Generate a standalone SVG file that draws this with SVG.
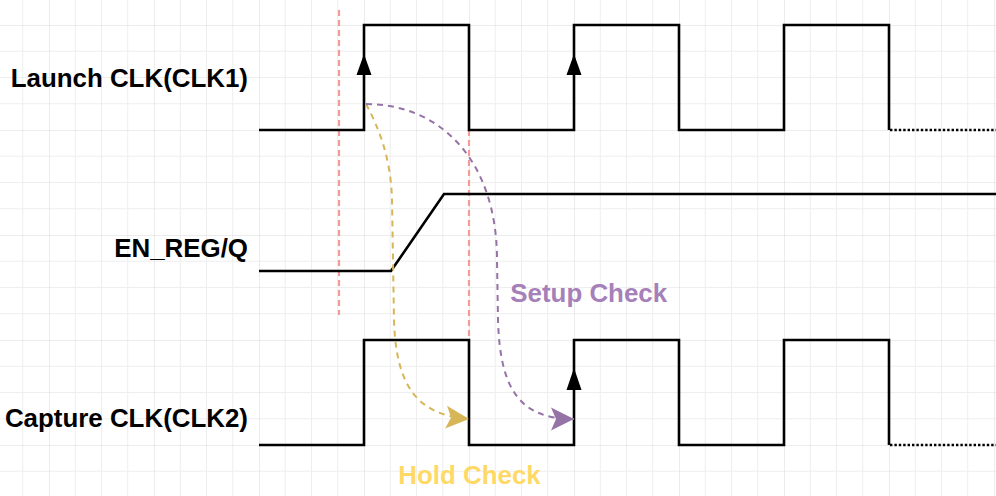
<svg xmlns="http://www.w3.org/2000/svg" width="996" height="496" viewBox="0 0 996 496">
  <defs>
    <pattern id="grid" patternUnits="userSpaceOnUse" x="49" y="25" width="105" height="105">
      <path d="M26.25 0V105M52.5 0V105M78.75 0V105M0 26.25H105M0 52.5H105M0 78.75H105" stroke="#eeeeee" stroke-width="1" fill="none"/>
      <path d="M0 0V105M0 0H105" stroke="#d9d9d9" stroke-width="1" fill="none"/>
    </pattern>
    <marker id="arrY" viewBox="0 0 24 24" refX="23" refY="12" markerWidth="24" markerHeight="24" markerUnits="userSpaceOnUse" orient="auto">
      <path d="M0 0.5L23 12L0 23.5L5 12Z" fill="#d6b656"/>
    </marker>
    <marker id="arrP" viewBox="0 0 24 24" refX="23" refY="12" markerWidth="24" markerHeight="24" markerUnits="userSpaceOnUse" orient="auto">
      <path d="M0 0.5L23 12L0 23.5L5 12Z" fill="#9673a6"/>
    </marker>
  </defs>
  <style>
    .sig{fill:none;stroke:#000;stroke-width:2.6;stroke-linejoin:miter}
    .dot{fill:none;stroke:#000;stroke-width:2.6;stroke-dasharray:2.4 2}
    .red{fill:none;stroke:#f19c99;stroke-width:2.2;stroke-dasharray:6 4}
    .lbl{font-family:"Liberation Sans",Arial,sans-serif;font-weight:bold;font-size:25.9px}
    .head{fill:#000}
  </style>
  <rect x="0" y="0" width="996" height="496" fill="#ffffff"/>
  <rect x="0" y="0" width="996" height="496" fill="url(#grid)"/>

  <g id="ref-lines">
    <line class="red" x1="339" y1="10" x2="339" y2="315"/>
    <line class="red" x1="469" y1="130" x2="469" y2="340"/>
  </g>

  <g id="launch-clk">
    <text class="lbl" x="248" y="87" text-anchor="end" fill="#000">Launch CLK(CLK1)</text>
    <path class="sig" d="M259 130H364V25H469V130H574V25H679V130H784V25H889V130"/>
    <path class="dot" d="M890 130H996"/>
    <polygon class="head" points="364,54 356.5,75 371.5,75"/>
    <polygon class="head" points="574,54 566.5,75 581.5,75"/>
  </g>

  <g id="en-reg-q">
    <text class="lbl" x="248" y="257" text-anchor="end" fill="#000">EN_REG/Q</text>
    <path class="sig" d="M259 271H391L444 194H996"/>
  </g>

  <g id="capture-clk">
    <text class="lbl" x="248" y="427" text-anchor="end" fill="#000">Capture CLK(CLK2)</text>
    <path class="sig" d="M259 445H364V340H469V445H574V340H679V445H784V340H889V445"/>
    <path class="dot" d="M890 445H996"/>
    <polygon class="head" points="574,368 566.5,390 581.5,390"/>
  </g>

  <g id="connectors">
    <path d="M366 104C380 130 391 160 392 200L394 320C396 390 420 415 469 419" fill="none" stroke="#d6b656" stroke-width="2" stroke-dasharray="6 5" marker-end="url(#arrY)"/>
    <path d="M366 104C440 104 497 160 497 260L498 320C500 390 520 419 574 419" fill="none" stroke="#9673a6" stroke-width="2" stroke-dasharray="6 5" marker-end="url(#arrP)"/>
  </g>

  <g id="setup-check">
    <text class="lbl" x="588.7" y="301.5" text-anchor="middle" fill="#a680b8">Setup Check</text>
  </g>
  <g id="hold-check">
    <text class="lbl" x="469.5" y="484.3" text-anchor="middle" fill="#ffd966">Hold Check</text>
  </g>
</svg>
